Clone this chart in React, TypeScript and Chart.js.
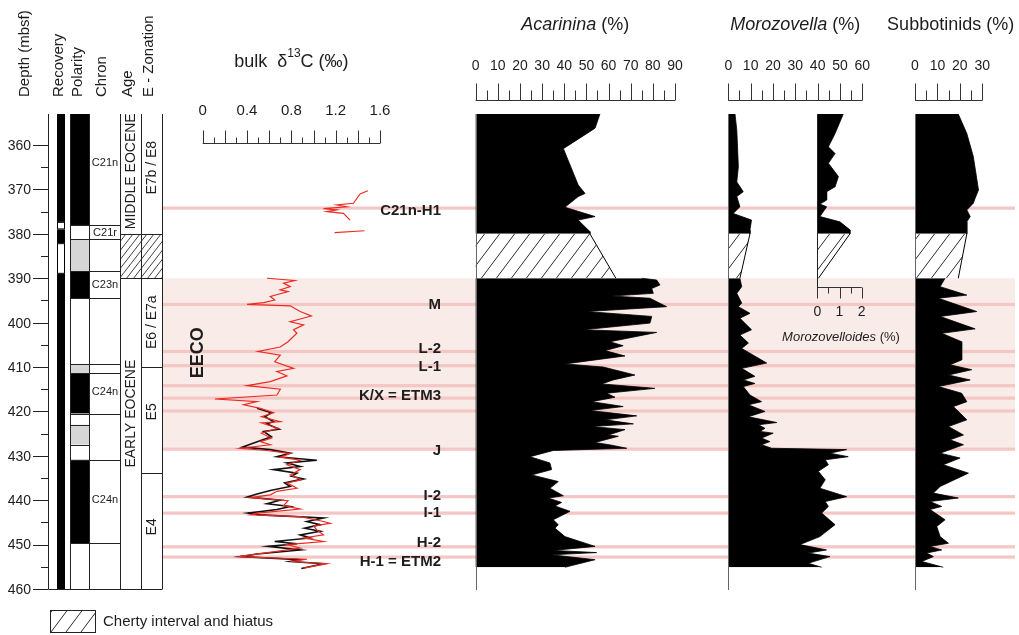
import { useEffect, useRef } from 'react';
import { Chart, registerables } from 'chart.js';

Chart.register(...registerables);

// ---------------- depth axis (mbsf) ----------------
const depthTop = 353;
const depthBottom = 460;
const depthLabels = [360, 370, 380, 390, 400, 410, 420, 430, 440, 450, 460];
const depthHalfTicks = [365, 375, 385, 395, 405, 415, 425, 435, 445, 455];

// ---------------- stratigraphic columns ----------------
const recoveryGaps = [[377.3, 379.0], [382.1, 389.0]];
const polarityTops = [353, 378.0, 381.2, 388.4, 394.5, 409.3, 411.4, 420.5, 423.0, 427.5, 430.9, 449.7];
const polarityKinds = ['n', 'r', 'g', 'n', 'r', 'g', 'n', 'r', 'g', 'r', 'n', 'r'];
const chronBounds = [378.0, 381.2, 388.4, 394.5, 409.3, 411.4, 420.5, 430.9, 449.7];
const polarityOnlyBounds = [423.0, 427.5];
const chronNames = ['C21n', 'C21r', 'C23n', 'C24n', 'C24n'];
const chronLabelDepths = [364.1, 379.8, 391.5, 415.7, 439.9];
const ageNames = ['MIDDLE EOCENE', 'EARLY EOCENE'];
const ageLabelDepths = [365.9, 420.5];
const hiatusTop = 380;
const hiatusBase = 390;
const zoneNames = ['E7b / E8', 'E6 / E7a', 'E5', 'E4'];
const zoneLabelDepths = [365.1, 399.9, 420.1, 446.0];
const zoneBounds = [410, 433.8];

// ---------------- events ----------------
const eecoTop = 390.0;
const eecoBase = 428.5;
const eventLineDepths = [374.2, 395.9, 406.5, 409.7, 414.2, 417.0, 419.9, 428.5, 439.2, 442.9, 450.5, 452.8];
const eventNames = ['C21n-H1', 'M', 'L-2', 'L-1', 'K/X = ETM3', 'J', 'I-2', 'I-1', 'H-2', 'H-1 = ETM2'];
const eventLabelDepths = [374.8, 396.0, 406.0, 409.9, 416.6, 428.8, 439.0, 442.8, 449.6, 453.8];

// ---------------- bulk δ13C (‰) ----------------
const carbonTickLabels = ['0', '0.4', '0.8', '1.2', '1.6'];
const redUpperDepth = [370.3, 371.0, 373.1, 373.5, 373.9, 374.3, 374.6, 375.0, 375.4, 376.9];
const redUpperD13C = [1.49, 1.42, 1.36, 1.21, 1.30, 1.09, 1.21, 1.12, 1.27, 1.33];
const redShortDepth = [379.3, 379.7];
const redShortD13C = [1.46, 1.19];
const redLowerDepth = [
  390.0, 390.5, 391.1, 391.9, 392.6, 393.0, 394.1, 394.9, 395.5, 395.9, 396.2, 397.5, 398.5, 399.8,
  400.5, 401.6, 402.4, 404.3, 405.5, 406.5, 407.3, 408.8, 410.3, 411.0, 412.0, 413.3, 414.2, 415.0,
  416.3, 417.2, 417.8, 418.5, 419.3, 420.3, 421.2, 422.3, 422.6, 423.8, 424.9, 426.0, 426.8, 427.5,
  428.3, 428.8, 429.5, 430.3, 431.0, 432.0, 433.1, 434.3, 435.4, 436.1, 437.3, 438.0, 438.8, 439.4,
  440.1, 441.2, 442.0, 442.9, 443.3, 443.7, 444.8, 445.2, 445.8, 446.7, 447.8, 448.5, 449.3, 450.0,
  450.8, 452.7, 453.3, 453.8, 454.3, 455.3,
];
const redLowerD13C = [
  0.58, 0.83, 0.73, 0.79, 0.70, 0.77, 0.61, 0.65, 0.55, 0.40, 0.79, 0.88, 0.98, 0.79,
  0.91, 0.82, 0.85, 0.77, 0.70, 0.50, 0.70, 0.65, 0.82, 0.67, 0.76, 0.61, 0.40, 0.70,
  0.67, 0.11, 0.49, 0.37, 0.52, 0.64, 0.53, 0.70, 0.53, 0.68, 0.53, 0.62, 0.52, 0.61,
  0.34, 0.58, 0.79, 0.70, 0.88, 0.76, 0.88, 0.79, 0.89, 0.76, 0.85, 0.67, 0.61, 0.43,
  0.77, 0.73, 0.88, 0.49, 0.43, 0.88, 1.09, 1.15, 1.00, 1.03, 1.09, 0.91, 1.09, 0.76,
  0.88, 0.32, 0.94, 0.79, 1.12, 0.91,
];
const blackDepth = [
  419.3, 420.3, 421.2, 422.3, 422.8, 424.0, 424.5, 425.7, 426.5, 428.0, 428.6, 429.4, 430.2, 431.0,
  431.6, 432.4, 433.1, 433.9, 434.6, 435.2, 436.1, 436.9, 437.8, 438.6, 439.3, 440.0, 440.8, 441.4,
  442.1, 442.9, 443.3, 444.0, 444.8, 445.5, 446.3, 447.0, 447.8, 448.5, 449.3, 449.8, 450.4, 451.2,
  452.1, 452.7, 453.4, 453.8, 454.3, 455.4,
];
const blackD13C = [
  0.49, 0.62, 0.56, 0.64, 0.58, 0.69, 0.55, 0.62, 0.53, 0.36, 0.61, 0.79, 0.67, 1.03,
  0.76, 0.88, 0.64, 0.85, 0.80, 0.91, 0.74, 0.79, 0.61, 0.49, 0.40, 0.70, 0.58, 0.79,
  0.67, 0.41, 0.52, 1.09, 0.94, 1.06, 0.92, 1.06, 0.88, 0.97, 0.65, 0.85, 0.59, 0.88,
  0.49, 0.34, 0.88, 0.79, 1.09, 0.89,
];

// ---------------- Acarinina (%) ----------------
const acarininaUpperDepth = [353.0, 356.2, 360.8, 369.0, 370.9, 371.6, 374.0, 376.1, 376.9, 379.5, 380.0];
const acarininaUpper = [56.1, 53.9, 39.6, 46.3, 49.4, 46.3, 40.3, 53.9, 46.3, 51.6, 51.6];
const acarininaHiatus = [51.6, 63.3];
const acarininaLowerDepth = [
  390.0, 390.4, 391.5, 392.3, 393.4, 394.0, 394.5, 396.4, 397.5, 398.6, 400.1, 401.6, 402.2, 404.3,
  405.2, 406.3, 407.5, 409.3, 410.0, 411.8, 412.9, 413.8, 414.8, 415.9, 416.8, 417.8, 418.9, 419.8,
  421.0, 421.9, 422.8, 423.4, 424.1, 425.3, 425.6, 427.0, 427.6, 428.3, 428.8, 430.2, 431.6, 433.1,
  434.3, 435.8, 437.3, 439.0, 439.5, 440.5, 441.3, 442.5, 444.4, 445.5, 446.3, 448.2, 450.4, 451.3,
  451.8, 452.3, 453.4, 455.1,
];
const acarininaLower = [
  75.0, 81.7, 83.2, 79.5, 80.2, 61.4, 78.7, 86.2, 50.1, 79.5, 78.7, 48.6, 81.7, 60.6,
  66.6, 58.4, 67.4, 40.3, 57.6, 71.9, 62.1, 56.9, 80.9, 59.1, 62.9, 52.4, 66.6, 51.6,
  72.7, 58.4, 71.2, 52.4, 67.4, 59.9, 64.4, 53.9, 61.4, 68.2, 35.0, 24.5, 33.5, 34.3,
  25.3, 37.3, 33.5, 39.6, 32.8, 38.8, 35.8, 42.6, 35.0, 37.3, 35.8, 40.3, 53.9, 35.0,
  54.6, 34.3, 53.9, 40.3,
];

// ---------------- Morozovella (%) ----------------
const morozovellaUpperDepth = [353.0, 356.6, 364.9, 368.3, 370.5, 371.6, 373.9, 375.4, 376.9, 379.1, 380.0];
const morozovellaUpper = [3.0, 3.8, 4.5, 3.8, 6.7, 3.8, 5.2, 2.2, 10.4, 9.7, 9.7];
const morozovellaHiatus = [9.7, 5.2];
const morozovellaLowerDepth = [
  390.0, 391.9, 393.4, 395.6, 396.4, 397.9, 399.0, 401.6, 402.8, 404.6, 405.8, 409.1, 410.3, 412.1,
  412.9, 413.7, 414.4, 416.3, 417.8, 418.5, 420.0, 421.2, 422.5, 423.0, 423.8, 424.5, 424.9, 426.0,
  426.8, 427.5, 428.3, 428.6, 429.4, 430.2, 430.9, 432.0, 433.5, 435.4, 437.3, 439.2, 440.3, 441.4,
  442.9, 445.5, 448.2, 450.0, 451.2, 451.9, 452.7, 454.2, 455.1,
];
const morozovellaLower = [
  5.2, 6.0, 3.8, 6.0, 4.5, 9.7, 5.2, 10.4, 5.2, 9.0, 6.0, 17.2, 6.0, 11.9,
  6.7, 11.9, 6.7, 9.7, 14.9, 9.0, 16.4, 9.0, 21.7, 13.5, 16.4, 14.2, 20.1, 14.9,
  18.6, 14.9, 19.4, 53.0, 45.5, 53.7, 43.4, 44.8, 40.3, 43.4, 41.0, 53.0, 43.4, 44.8,
  41.8, 47.8, 41.0, 32.1, 44.0, 35.8, 45.5, 35.8, 41.8,
];

// ---------------- Morozovelloides (%) ----------------
const morozovelloidesDepth = [353.0, 357.4, 360.4, 361.9, 364.1, 367.1, 369.4, 370.5, 372.4, 373.3, 373.9, 376.1, 377.3, 379.1, 380.0];
const morozovelloides = [1.17, 0.80, 0.50, 0.80, 0.50, 0.95, 0.80, 0.42, 0.42, 0.12, 0.42, 0.12, 1.02, 1.47, 1.47];
const morozovelloidesHiatus = [1.47, 0.05];

// ---------------- Subbotinids (%) ----------------
const subbotinidsUpperDepth = [353.0, 357.4, 362.6, 370.1, 372.0, 373.1, 374.6, 376.1, 377.3, 379.1, 380.0];
const subbotinidsUpper = [19.3, 23.1, 26.0, 28.3, 26.8, 26.0, 23.1, 24.6, 23.1, 23.1, 23.1];
const subbotinidsHiatus = [23.1, 19.3];
const subbotinidsLowerDepth = [
  390.0, 391.9, 393.8, 394.5, 397.5, 398.6, 401.4, 402.4, 404.3, 408.4, 409.5, 410.6, 411.8, 412.9,
  414.4, 415.9, 417.8, 418.9, 421.9, 423.4, 425.3, 426.4, 427.5, 429.4, 430.5, 432.0, 433.9, 436.9,
  438.4, 439.5, 440.3, 441.4, 442.1, 444.4, 445.9, 448.2, 449.7, 450.4, 451.2, 451.9, 452.7, 453.8,
  455.1,
];
const subbotinidsLower = [
  13.4, 11.2, 23.1, 10.4, 27.5, 11.2, 26.8, 11.9, 20.8, 20.8, 15.6, 25.3, 14.9, 24.6,
  10.4, 20.8, 23.1, 17.1, 23.1, 14.9, 21.6, 15.6, 21.6, 11.2, 20.1, 12.6, 23.8, 11.2,
  8.2, 19.3, 6.7, 11.9, 6.7, 13.4, 9.7, 11.2, 14.9, 6.7, 11.9, 5.2, 8.2, 3.0,
  12.6,
];

// ---------------- drawing ----------------
const W = 1019;
const H = 635;
const FONT = '"Liberation Sans", Arial, Helvetica, sans-serif';
const INK = '#1d1d1d';

// value range -> pixel span of each panel (the x scales cover the full canvas width)
const panelSpans = {
  xC: { v0: 0, v1: 1.6, p0: 202.7, p1: 380 },
  xA: { v0: 0, v1: 90, p0: 475.7, p1: 675 },
  xM: { v0: 0, v1: 60, p0: 728.3, p1: 862.3 },
  xMl: { v0: 0, v1: 2, p0: 817.3, p1: 861.7 },
  xS: { v0: 0, v1: 30, p0: 915, p1: 982.3 },
};

function panelScale(s: { v0: number; v1: number; p0: number; p1: number }) {
  const k = (s.v1 - s.v0) / (s.p1 - s.p0);
  return { type: 'linear', axis: 'x', display: false, min: s.v0 - s.p0 * k, max: s.v0 + (W - s.p0) * k };
}

const pts = (depths: number[], values: number[]) => depths.map((d, i) => ({ x: values[i], y: d }));

function makeHatch(w: number, h: number, lw: number) {
  const c = document.createElement('canvas');
  c.width = w;
  c.height = h;
  const g = c.getContext('2d')!;
  g.strokeStyle = '#2b2b2b';
  g.lineWidth = lw;
  g.beginPath();
  for (const [ox, oy] of [[0, 0], [-w, 0], [w, 0], [0, -h], [0, h]]) {
    g.moveTo(ox, oy + h);
    g.lineTo(ox + w, oy);
  }
  g.stroke();
  return g.createPattern(c, 'repeat')!;
}

function text(
  ctx: CanvasRenderingContext2D,
  s: string,
  x: number,
  y: number,
  size: number,
  o: { align?: CanvasTextAlign; weight?: string; style?: string; rotate?: number; baseline?: CanvasTextBaseline } = {},
) {
  ctx.save();
  ctx.font = `${o.style || 'normal'} ${o.weight || 'normal'} ${size}px ${FONT}`;
  ctx.fillStyle = INK;
  ctx.textAlign = o.align || 'center';
  ctx.textBaseline = o.baseline || 'middle';
  ctx.translate(x, y);
  if (o.rotate) ctx.rotate(o.rotate);
  ctx.fillText(s, 0, 0);
  ctx.restore();
}

// centred run of text pieces with their own font style
function mixed(ctx: CanvasRenderingContext2D, parts: [string, string, number, number][], cx: number, y: number) {
  ctx.save();
  ctx.fillStyle = INK;
  ctx.textBaseline = 'middle';
  ctx.textAlign = 'left';
  let total = 0;
  for (const [s, st, size] of parts) {
    ctx.font = `${st} ${size}px ${FONT}`;
    total += ctx.measureText(s).width;
  }
  let x = cx - total / 2;
  for (const [s, st, size, dy] of parts) {
    ctx.font = `${st} ${size}px ${FONT}`;
    ctx.fillText(s, x, y + dy);
    x += ctx.measureText(s).width;
  }
  ctx.restore();
}

type AxisSpec = {
  count: number;
  step: number;
  majorEvery: number;
  labelEvery: number;
  fmt: (v: number) => string;
  baseY: number;
  dir: number;
  majorLen: number;
  minorLen: number;
  labelY: number;
  size: number;
};

function panelAxis(ctx: CanvasRenderingContext2D, scale: any, a: AxisSpec) {
  ctx.save();
  ctx.strokeStyle = '#333';
  ctx.lineWidth = 1;
  const x0 = scale.getPixelForValue(0);
  const x1 = scale.getPixelForValue(a.count * a.step);
  ctx.beginPath();
  ctx.moveTo(x0, a.baseY + 0.5);
  ctx.lineTo(x1, a.baseY + 0.5);
  for (let i = 0; i <= a.count; i++) {
    const px = Math.round(scale.getPixelForValue(i * a.step)) + 0.5;
    const len = i % a.majorEvery === 0 ? a.majorLen : a.minorLen;
    ctx.moveTo(px, a.baseY + 0.5);
    ctx.lineTo(px, a.baseY + 0.5 + a.dir * len);
  }
  ctx.stroke();
  ctx.restore();
  for (let i = 0; i <= a.count; i += a.labelEvery) {
    text(ctx, a.fmt(i * a.step), scale.getPixelForValue(i * a.step), a.labelY, a.size);
  }
}

export default function App() {
  const ref = useRef<HTMLCanvasElement>(null);

  useEffect(() => {
    const canvas = ref.current!;
    const hatch = makeHatch(15, 20, 1);
    const fineHatch = makeHatch(7, 9, 0.9);

    const line = (id: string, data: any[], color: string, width: number) => ({
      data, xAxisID: id, yAxisID: 'y', borderColor: color, borderWidth: width,
      pointRadius: 0, fill: false, tension: 0,
    });
    const area = (id: string, data: any[], bg: any, bw: number) => ({
      data, xAxisID: id, yAxisID: 'y', borderColor: '#000', borderWidth: bw,
      backgroundColor: bg, pointRadius: 0, fill: 'origin', tension: 0,
    });
    const hiatus = (id: string, v: number[]) => area(id, pts([hiatusTop, hiatusBase], v), hatch, 1);

    const figure = {
      id: 'figure',
      beforeDatasetsDraw(chart: any) {
        const ctx = chart.ctx as CanvasRenderingContext2D;
        const y = chart.scales.y;
        ctx.save();
        ctx.fillStyle = '#f9ece8';
        const b0 = y.getPixelForValue(eecoTop);
        const b1 = y.getPixelForValue(eecoBase);
        ctx.fillRect(162, b0, 1015 - 162, b1 - b0);
        ctx.fillStyle = '#f4c6c4';
        for (const d of eventLineDepths) {
          const py = y.getPixelForValue(d);
          ctx.fillRect(162, py - 1.6, 1015 - 162, 3.2);
        }
        ctx.restore();
      },
      afterDatasetsDraw(chart: any) {
        const ctx = chart.ctx as CanvasRenderingContext2D;
        const y = chart.scales.y;
        const Y = (d: number) => y.getPixelForValue(d);
        const top = Y(depthTop);
        const bot = Y(depthBottom);

        // zero lines of the assemblage panels
        ctx.save();
        ctx.strokeStyle = '#666';
        ctx.lineWidth = 1;
        ctx.beginPath();
        for (const id of ['xA', 'xM', 'xS']) {
          const px = Math.round(chart.scales[id].getPixelForValue(0)) + 0.5;
          ctx.moveTo(px, top);
          ctx.lineTo(px, bot + 1);
        }
        ctx.stroke();
        ctx.restore();

        // depth axis
        ctx.save();
        ctx.strokeStyle = '#222';
        ctx.lineWidth = 1;
        ctx.beginPath();
        ctx.moveTo(48.5, top);
        ctx.lineTo(48.5, bot);
        for (const d of depthLabels) {
          const py = Math.round(Y(d)) + 0.5;
          ctx.moveTo(33, py);
          ctx.lineTo(48.5, py);
        }
        for (const d of depthHalfTicks) {
          const py = Math.round(Y(d)) + 0.5;
          ctx.moveTo(41, py);
          ctx.lineTo(48.5, py);
        }
        ctx.moveTo(48.5, Math.round(bot) + 0.5);
        ctx.lineTo(162.5, Math.round(bot) + 0.5);
        ctx.stroke();
        ctx.restore();
        for (const d of depthLabels) text(ctx, String(d), 31, Y(d) + 1, 14, { align: 'right' });

        // recovery
        ctx.save();
        ctx.fillStyle = '#000';
        ctx.fillRect(57, top, 8, bot - top);
        for (const [a, b] of recoveryGaps) {
          ctx.fillStyle = '#fff';
          ctx.fillRect(57, Y(a), 8, Y(b) - Y(a));
          ctx.strokeStyle = '#000';
          ctx.lineWidth = 1;
          ctx.strokeRect(57.5, Y(a) + 0.5, 7, Y(b) - Y(a) - 1);
        }
        // polarity
        polarityTops.forEach((t, i) => {
          const b = i + 1 < polarityTops.length ? polarityTops[i + 1] : depthBottom;
          const k = polarityKinds[i];
          ctx.fillStyle = k === 'n' ? '#000' : k === 'g' ? '#d6d6d6' : '#fff';
          ctx.fillRect(70, Y(t), 19, Y(b) - Y(t));
        });
        ctx.strokeStyle = '#222';
        ctx.lineWidth = 1;
        ctx.beginPath();
        for (const x of [70.5, 89.5, 120.5, 141.5, 162.5]) {
          ctx.moveTo(x, top);
          ctx.lineTo(x, bot);
        }
        for (const d of chronBounds) {
          const py = Math.round(Y(d)) + 0.5;
          ctx.moveTo(70.5, py);
          ctx.lineTo(120.5, py);
        }
        for (const d of polarityOnlyBounds) {
          const py = Math.round(Y(d)) + 0.5;
          ctx.moveTo(70.5, py);
          ctx.lineTo(89.5, py);
        }
        for (const d of [hiatusTop, hiatusBase]) {
          const py = Math.round(Y(d)) + 0.5;
          ctx.moveTo(120.5, py);
          ctx.lineTo(162.5, py);
        }
        for (const d of zoneBounds) {
          const py = Math.round(Y(d)) + 0.5;
          ctx.moveTo(141.5, py);
          ctx.lineTo(162.5, py);
        }
        ctx.stroke();
        ctx.fillStyle = fineHatch;
        ctx.fillRect(121, Y(hiatusTop) + 1, 41, Y(hiatusBase) - Y(hiatusTop) - 1);
        ctx.restore();

        chronNames.forEach((s, i) => text(ctx, s, 105, Y(chronLabelDepths[i]), 11));
        ageNames.forEach((s, i) => text(ctx, s, 131, Y(ageLabelDepths[i]), 14, { rotate: -Math.PI / 2 }));
        zoneNames.forEach((s, i) => text(ctx, s, 152, Y(zoneLabelDepths[i]), 14, { rotate: -Math.PI / 2 }));

        // column headers
        const headers: [string, number][] = [
          ['Depth (mbsf)', 25], ['Recovery', 59], ['Polarity', 78], ['Chron', 102], ['Age', 128], ['E - Zonation', 149],
        ];
        for (const [s, x] of headers) text(ctx, s, x, 97, 15, { rotate: -Math.PI / 2, align: 'left' });

        // event labels
        eventNames.forEach((s, i) => text(ctx, s, 441, Y(eventLabelDepths[i]), 15, { align: 'right', weight: 'bold' }));
        text(ctx, 'EECO', 198, Y(406.8), 18, { weight: 'bold', rotate: -Math.PI / 2 });

        // panel axes and titles
        const sC = chart.scales.xC;
        panelAxis(ctx, sC, {
          count: 16, step: 0.1, majorEvery: 2, labelEvery: 4,
          fmt: (v) => carbonTickLabels[Math.round(v / 0.4)],
          baseY: 143, dir: -1, majorLen: 13, minorLen: 6, labelY: 111, size: 15,
        });
        const cC = (sC.getPixelForValue(0) + sC.getPixelForValue(1.6)) / 2;
        mixed(ctx, [['bulk  δ', 'normal', 18, 0], ['13', 'normal', 12, -8], ['C (‰)', 'normal', 18, 0]], cC, 62);

        const species: [string, string, number, number][] = [
          ['xA', 'Acarinina', 90, 0], ['xM', 'Morozovella', 60, 0], ['xS', 'Subbotinids', 30, 2],
        ];
        for (const [id, name, max, shift] of species) {
          const s = chart.scales[id];
          panelAxis(ctx, s, {
            count: max / 5, step: 5, majorEvery: 2, labelEvery: 2, fmt: (v) => String(Math.round(v)),
            baseY: 100, dir: -1, majorLen: 17, minorLen: 10, labelY: 66, size: 14,
          });
          const c = (s.getPixelForValue(0) + s.getPixelForValue(max)) / 2 + shift;
          const italic = id !== 'xS';
          mixed(ctx, [[name, italic ? 'italic normal' : 'normal', 18, 0], [' (%)', 'normal', 18, 0]], c, 25);
        }

        const sMl = chart.scales.xMl;
        panelAxis(ctx, sMl, {
          count: 4, step: 0.5, majorEvery: 2, labelEvery: 2, fmt: (v) => String(Math.round(v)),
          baseY: 287, dir: 1, majorLen: 11, minorLen: 6, labelY: 312, size: 14,
        });
        ctx.save();
        ctx.strokeStyle = '#222';
        ctx.beginPath();
        const mx = Math.round(sMl.getPixelForValue(0)) + 0.5;
        ctx.moveTo(mx, top);
        ctx.lineTo(mx, 288);
        ctx.stroke();
        ctx.restore();
        mixed(ctx, [['Morozovelloides', 'italic normal', 13, 0], [' (%)', 'normal', 13, 0]], 841, 337);

        // legend
        ctx.save();
        ctx.fillStyle = hatch;
        ctx.fillRect(50, 610, 45, 22);
        ctx.strokeStyle = '#222';
        ctx.strokeRect(50.5, 610.5, 45, 22);
        ctx.restore();
        text(ctx, 'Cherty interval and hiatus', 103, 622, 15, { align: 'left' });
      },
    };

    const chart = new Chart(canvas, {
      type: 'line',
      data: {
        datasets: [
          line('xC', pts(redUpperDepth, redUpperD13C), '#ec2a22', 1.2),
          line('xC', pts(redShortDepth, redShortD13C), '#ec2a22', 1.2),
          line('xC', pts(redLowerDepth, redLowerD13C), '#ec2a22', 1.2),
          line('xC', pts(blackDepth, blackD13C), '#111', 1.6),
          area('xA', pts(acarininaUpperDepth, acarininaUpper), '#000', 0.8),
          hiatus('xA', acarininaHiatus),
          area('xA', pts(acarininaLowerDepth, acarininaLower), '#000', 0.8),
          area('xM', pts(morozovellaUpperDepth, morozovellaUpper), '#000', 0.8),
          hiatus('xM', morozovellaHiatus),
          area('xM', pts(morozovellaLowerDepth, morozovellaLower), '#000', 0.8),
          area('xMl', pts(morozovelloidesDepth, morozovelloides), '#000', 0.8),
          hiatus('xMl', morozovelloidesHiatus),
          area('xS', pts(subbotinidsUpperDepth, subbotinidsUpper), '#000', 0.8),
          hiatus('xS', subbotinidsHiatus),
          area('xS', pts(subbotinidsLowerDepth, subbotinidsLower), '#000', 0.8),
        ] as any,
      },
      options: {
        animation: false,
        responsive: false,
        maintainAspectRatio: false,
        indexAxis: 'y',
        layout: { padding: { left: 0, right: 0, top: 114, bottom: H - 589 } },
        scales: {
          y: { type: 'linear', min: depthTop, max: depthBottom, reverse: true, display: false },
          x: { type: 'linear', display: false, min: 0, max: 1 },
          xC: panelScale(panelSpans.xC),
          xA: panelScale(panelSpans.xA),
          xM: panelScale(panelSpans.xM),
          xMl: panelScale(panelSpans.xMl),
          xS: panelScale(panelSpans.xS),
        } as any,
        plugins: { legend: { display: false }, tooltip: { enabled: false } },
        events: [],
      },
      plugins: [figure],
    });
    return () => chart.destroy();
  }, []);

  return (
    <div style={{ position: 'fixed', left: 0, top: 0, width: W, height: H, background: '#fff' }}>
      <canvas ref={ref} width={W} height={H} style={{ display: 'block', width: W, height: H }} />
    </div>
  );
}
